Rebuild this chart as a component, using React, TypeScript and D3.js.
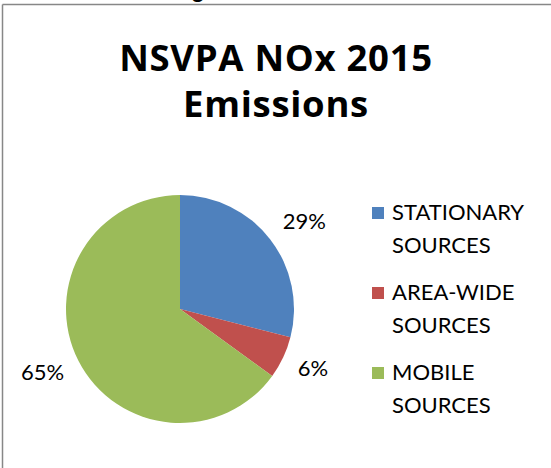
import React from "react";
import * as d3 from "d3";

const categories = ["STATIONARY SOURCES", "AREA-WIDE SOURCES", "MOBILE SOURCES"];
const values = [29, 6, 65];
const colors = ["#4F81BD", "#C0504D", "#9BBB59"];
const titleLines = ["NSVPA NOx 2015", "Emissions"];

const width = 551;
const height = 468;
const font = "Lato, 'Open Sans', sans-serif";

const App = () => {
  const cx = 180;
  const cy = 309;
  const r = 114;

  const total = d3.sum(values);
  const pie = d3
    .pie<number>()
    .sort(null)
    .value((d) => d);
  const arcs = pie(values);
  const arc = d3.arc<d3.PieArcDatum<number>>().innerRadius(0).outerRadius(r);

  // labels sit just outside the rim, anchored on the side they fall
  const labelR = r + 16;

  return (
    <svg
      width={width}
      height={height}
      style={{ position: "absolute", left: 0, top: 0, background: "#fff" }}
    >
      {/* bit of text cut off above the frame */}
      <text x={192} y={-2} fontFamily={font} fontWeight="bold" fontSize={22} fill="#000">
        g
      </text>

      {/* chart frame */}
      <line x1={2.5} y1={4.5} x2={width} y2={4.5} stroke="#878787" strokeWidth={1.5} />
      <line x1={2.5} y1={4.5} x2={2.5} y2={height} stroke="#878787" strokeWidth={1.5} />

      {titleLines.map((t, i) => (
        <text
          key={t}
          x={276}
          y={71 + i * 46}
          textAnchor="middle"
          fontFamily="'Open Sans', sans-serif"
          fontWeight="bold"
          fontSize={36.5}
          letterSpacing={0.7}
          fill="#000"
        >
          {t}
        </text>
      ))}

      <g transform={`translate(${cx},${cy})`}>
        {arcs.map((a, i) => (
          <path key={i} d={arc(a) || ""} fill={colors[i]} />
        ))}
        {arcs.map((a, i) => {
          const mid = (a.startAngle + a.endAngle) / 2;
          const px = labelR * Math.sin(mid);
          const py = -labelR * Math.cos(mid);
          const upper = Math.cos(mid) > 0;
          return (
            <text
              key={"l" + i}
              x={px}
              y={upper ? py : py + 12}
              textAnchor={px >= 0 ? "start" : "end"}
              fontFamily={font}
              fontSize={22}
              fill="#000"
            >
              {Math.round((values[i] / total) * 100) + "%"}
            </text>
          );
        })}
      </g>

      {categories.map((c, i) => {
        const base = 220 + i * 80;
        const words = c.split(" ");
        return (
          <g key={c}>
            <rect x={372} y={base - 13} width={12} height={12} fill={colors[i]} />
            {words.map((w, j) => (
              <text
                key={w}
                x={392}
                y={base + j * 32.5}
                fontFamily={font}
                fontSize={22}
                fill="#000"
              >
                {w}
              </text>
            ))}
          </g>
        );
      })}
    </svg>
  );
};

export default App;
